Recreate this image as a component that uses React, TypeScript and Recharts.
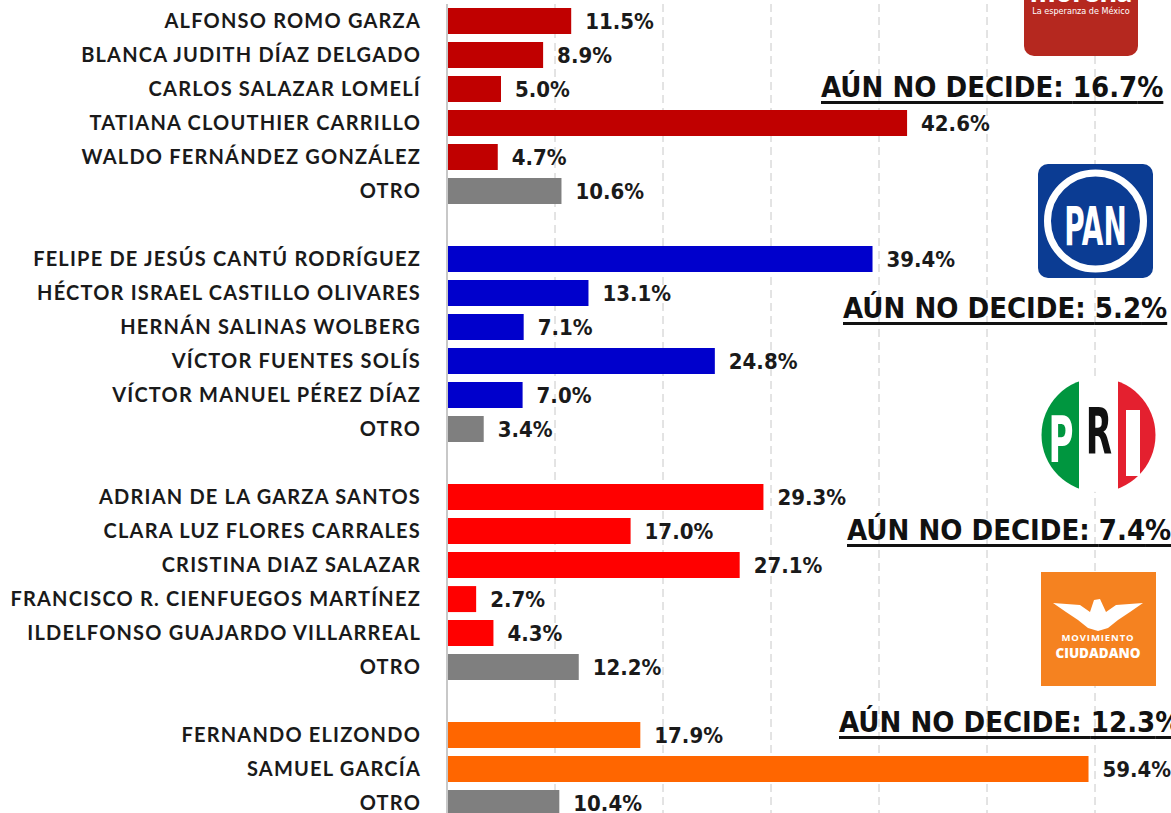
import { BarChart, Bar, XAxis, YAxis, CartesianGrid, LabelList, Cell } from 'recharts';

const candidates = [
  'ALFONSO ROMO GARZA',
  'BLANCA JUDITH DÍAZ DELGADO',
  'CARLOS SALAZAR LOMELÍ',
  'TATIANA CLOUTHIER CARRILLO',
  'WALDO FERNÁNDEZ GONZÁLEZ',
  'OTRO',
  '',
  'FELIPE DE JESÚS CANTÚ RODRÍGUEZ',
  'HÉCTOR ISRAEL CASTILLO OLIVARES',
  'HERNÁN SALINAS WOLBERG',
  'VÍCTOR FUENTES SOLÍS',
  'VÍCTOR MANUEL PÉREZ DÍAZ',
  'OTRO',
  '',
  'ADRIAN DE LA GARZA SANTOS',
  'CLARA LUZ FLORES CARRALES',
  'CRISTINA DIAZ SALAZAR',
  'FRANCISCO R. CIENFUEGOS MARTÍNEZ',
  'ILDELFONSO GUAJARDO VILLARREAL',
  'OTRO',
  '',
  'FERNANDO ELIZONDO',
  'SAMUEL GARCÍA',
  'OTRO',
];

const votes = [
  11.5, 8.9, 5.0, 42.6, 4.7, 10.6, null,
  39.4, 13.1, 7.1, 24.8, 7.0, 3.4, null,
  29.3, 17.0, 27.1, 2.7, 4.3, 12.2, null,
  17.9, 59.4, 10.4,
];

const parties = [
  'MORENA', 'MORENA', 'MORENA', 'MORENA', 'MORENA', 'OTRO', '',
  'PAN', 'PAN', 'PAN', 'PAN', 'PAN', 'OTRO', '',
  'PRI', 'PRI', 'PRI', 'PRI', 'PRI', 'OTRO', '',
  'MC', 'MC', 'OTRO',
];

const undecided = [16.7, 5.2, 7.4, 12.3];
const xTicks = [0, 10, 20, 30, 40, 50, 60];

const partyColors: Record<string, string> = {
  MORENA: '#C00000',
  PAN: '#0000CC',
  PRI: '#FF0000',
  MC: '#FF6600',
  OTRO: '#7F7F7F',
  '': 'transparent',
};

const data = candidates.map((name, i) => ({
  id: i,
  name,
  value: votes[i],
  party: parties[i],
}));

const condensed = "'DejaVu Sans Condensed', 'DejaVu Sans', sans-serif";

const NameTick = ({ x, y, payload }: any) => (
  <text
    x={x}
    y={y}
    dy={7}
    textAnchor="end"
    fontFamily="Lato, sans-serif"
    fontWeight={700}
    fontSize={20}
    letterSpacing={1.2}
    fill="#1a1a1a"
  >
    {payload.value}
  </text>
);

// where each "AÚN NO DECIDE" note sits
const notePos = [
  { left: 821, top: 73 },
  { left: 843, top: 294 },
  { left: 847, top: 516 },
  { left: 839, top: 708 },
];

function Logos() {
  return (
    <svg
      width={1171}
      height={813}
      style={{ position: 'absolute', left: 0, top: 0, pointerEvents: 'none' }}
    >
      <defs>
        <clipPath id="priClip">
          <circle cx={1098.5} cy={435} r={57} />
        </clipPath>
      </defs>

      {/* morena */}
      <rect x={1024} y={-20} width={114} height={76} rx={10} fill="#B5281F" />
      <text x={1081} y={2} textAnchor="middle" fill="#fff" fontFamily="Lato" fontWeight={900} fontSize={30}>
        morena
      </text>
      <text x={1081} y={14} textAnchor="middle" fill="#fff" fontFamily={condensed} fontSize={9}>
        La esperanza de México
      </text>

      {/* PAN */}
      <rect x={1038} y={164} width={115} height={114} rx={10} fill="#0B3C93" />
      <circle cx={1095.5} cy={221} r={48} fill="none" stroke="#fff" strokeWidth={7} />
      <text
        transform="translate(1095.5 245) scale(1 1.75)"
        textAnchor="middle"
        fill="#fff"
        fontFamily={condensed}
        fontWeight={700}
        fontSize={31}
      >
        PAN
      </text>

      {/* PRI */}
      <g clipPath="url(#priClip)">
        <rect x={1040} y={376} width={39} height={120} fill="#00963F" />
        <rect x={1079} y={376} width={39} height={120} fill="#fff" />
        <rect x={1118} y={376} width={40} height={120} fill="#E4202F" />
      </g>
      <text transform="translate(1061 462) scale(1 1.7)" textAnchor="middle" fill="#fff" fontFamily={condensed} fontWeight={700} fontSize={38}>
        P
      </text>
      <text transform="translate(1099 454) scale(1 1.7)" textAnchor="middle" fill="#111" fontFamily={condensed} fontWeight={700} fontSize={38}>
        R
      </text>
      <rect x={1126} y={410} width={14} height={66} fill="#fff" />

      {/* Movimiento Ciudadano */}
      <rect x={1041} y={572} width={115} height={114} fill="#F58220" />
      <path
        d="M1053 603 L1080 605 L1090 612 L1094 600 L1100 599 L1106 612 L1116 605 L1143 603 L1130 612 L1118 620 L1108 628 L1098 631 L1088 628 L1078 620 L1066 612 Z"
        fill="#fff"
      />
      <text x={1098} y={641} textAnchor="middle" fill="#fff" fontFamily="'Open Sans'" fontWeight={700} fontSize={9.5} letterSpacing={0.9}>
        MOVIMIENTO
      </text>
      <text x={1098} y={658} textAnchor="middle" fill="#fff" fontFamily="'Open Sans'" fontWeight={800} fontSize={13.5}>
        CIUDADANO
      </text>
    </svg>
  );
}

export default function App() {
  return (
    <div style={{ position: 'absolute', left: 0, top: 0, width: 1171, height: 813, overflow: 'hidden', background: '#fff' }}>
      <BarChart
        width={1171}
        height={824}
        data={data}
        layout="vertical"
        margin={{ top: 4, right: 76, bottom: 4, left: 0 }}
        barCategoryGap="12%"
      >
        <CartesianGrid horizontal={false} stroke="#C8C8C8" strokeDasharray="8 5" />
        <XAxis type="number" domain={[0, 60]} ticks={xTicks} hide />
        <YAxis
          type="category"
          dataKey="name"
          width={447}
          tick={<NameTick />}
          tickLine={false}
          tickSize={0}
          tickMargin={26}
          axisLine={{ stroke: '#C8C8C8', strokeWidth: 2 }}
          interval={0}
        />
        <Bar dataKey="value" isAnimationActive={false}>
          {data.map((d) => (
            <Cell key={d.id} fill={partyColors[d.party]} />
          ))}
          <LabelList
            dataKey="value"
            position="right"
            offset={14}
            formatter={(v: any) => (v == null ? '' : `${Number(v).toFixed(1)}%`)}
            style={{ fontFamily: condensed, fontWeight: 700, fontSize: 22, fill: '#1a1a1a' }}
          />
        </Bar>
      </BarChart>
      <Logos />
      {undecided.map((u, i) => (
        <div
          key={i}
          style={{
            position: 'absolute',
            left: notePos[i].left,
            top: notePos[i].top,
            fontFamily: condensed,
            fontWeight: 700,
            fontSize: 29,
            lineHeight: '29px',
            whiteSpace: 'nowrap',
            color: '#111',
            textDecoration: 'underline',
            textDecorationThickness: '3px',
            textUnderlineOffset: '4px',
          }}
        >
          AÚN NO DECIDE: {u}%
        </div>
      ))}
    </div>
  );
}
